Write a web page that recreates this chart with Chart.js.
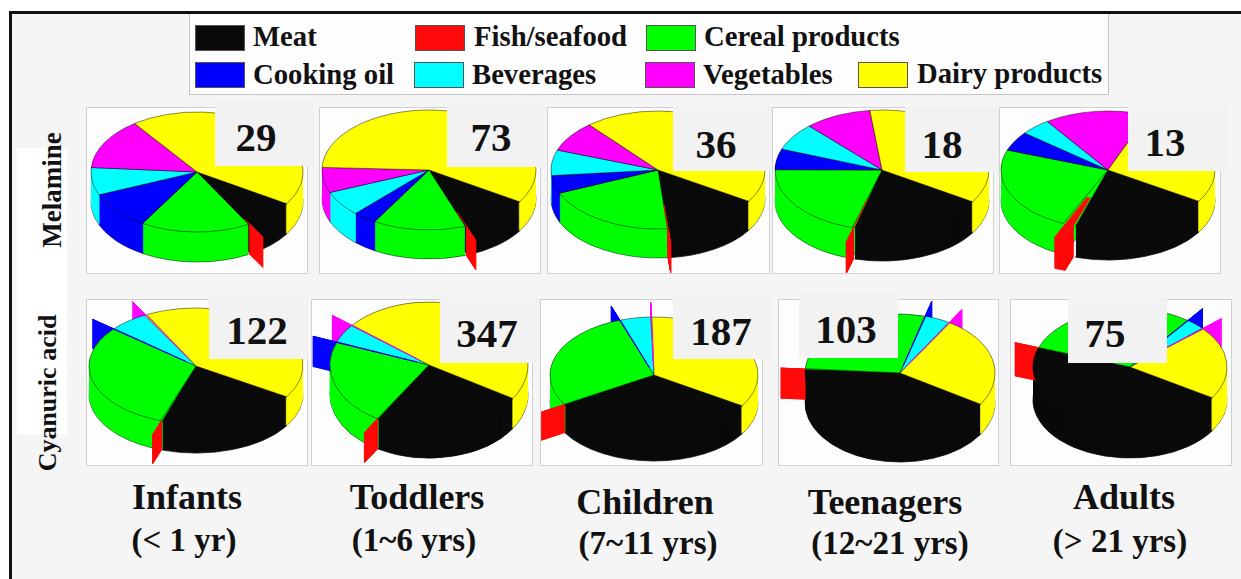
<!DOCTYPE html>
<html>
<head>
<meta charset="utf-8">
<title>Melamine and cyanuric acid intake by age group</title>
<script src="https://cdn.jsdelivr.net/npm/chart.js@4"></script>
<style>
  html, body { margin: 0; padding: 0; background: #fff; }
  #page { position: relative; width: 1241px; height: 579px; overflow: hidden; background: #fff; font-family: "Liberation Serif", serif; font-weight: bold; color: #111; }
  #frame { position: absolute; left: 9px; top: 11px; right: 0; bottom: 0; background: #f5f5f5; border-left: 3px solid #111; border-top: 3px solid #111; }
  #legend { position: absolute; left: 189px; top: 14px; width: 918px; height: 80px; background: #fdfdfd; border: 1px solid #c4c4c4; border-top: 0; }
  #rowband { position: absolute; left: 17px; top: 148px; width: 50px; height: 286px; background: #fff; }
  .swatch { position: absolute; width: 50px; height: 26px; box-sizing: border-box; border: 1px solid #555; }
  .text { position: absolute; white-space: nowrap; line-height: 1; transform: translate(-50%, -50%); }
  .legendtext { position: absolute; white-space: nowrap; line-height: 1; font-size: 28.7px; transform: translateY(-50%); }
  .rowlabel { position: absolute; white-space: nowrap; line-height: 1; transform: translate(-50%, -50%) rotate(-90deg); }
  .panel { position: absolute; background: #fdfdfd; box-shadow: 0 0 0 1px #d0d0d0; }
  .numbox { position: absolute; width: 99px; height: 65px; background: #f2f2f2; }
</style>
</head>
<body>
<div id="page">
  <div id="frame"></div>
  <div id="rowband"></div>
  <div id="legend"></div>
</div>
<script>
// slices, clockwise from the meat/dairy edge
const categories = ['Meat', 'Fish/seafood', 'Cereal products', 'Cooking oil', 'Beverages', 'Vegetables', 'Dairy products'];
const colors = ['#0a0a0a', '#ff0a0a', '#00ff00', '#0000ff', '#00ffff', '#ff00ff', '#ffff00'];

// percent share of each category
const melamineInfants   = [7.7, 0.3, 16.7, 10.2, 7.4, 13.8, 43.9];
const melamineToddlers  = [10.3, 0.3, 14.0, 3.6, 6.8, 6.8, 58.2];
const melamineChildren  = [14.5, 0.2, 20.0, 4.9, 7.0, 8.4, 45.0];
const melamineTeenagers = [20.2, 0.4, 20.6, 5.6, 7.4, 10.1, 35.7];
const melamineAdults    = [21.0, 2.0, 23.6, 5.3, 4.6, 15.6, 27.9];
const cyanuricInfants   = [21.2, 0.3, 30.5, 0.3, 5.8, 0.4, 41.5];
const cyanuricToddlers  = [24.7, 0.2, 22.0, 0.2, 4.7, 0.2, 48.0];
const cyanuricChildren  = [32.5, 0.2, 28.0, 0.2, 4.7, 0.2, 34.2];
const cyanuricTeenagers = [42.0, 0.3, 28.0, 0.2, 4.2, 0.2, 25.1];
const cyanuricAdults    = [46.4, 0.2, 29.6, 0.2, 3.1, 0.2, 20.3];

const melamineTotals = ['29', '73', '36', '18', '13'];
const cyanuricTotals = ['122', '347', '187', '103', '75'];
const groupNames = ['Infants', 'Toddlers', 'Children', 'Teenagers', 'Adults'];
const groupAges = ['(< 1 yr)', '(1~6 yrs)', '(7~11 yrs)', '(12~21 yrs)', '(> 21 yrs)'];

const melamineExploded = ['Fish/seafood'];
const cyanuricExploded = ['Fish/seafood', 'Cooking oil', 'Vegetables'];

// layout only: panel box, pie centre and radii, number box and its text,
// fishFrom = how far out the fish slice shows on the top face
const pies = [
  { values: melamineInfants,   total: melamineTotals[0], out: melamineExploded, box: [87, 108, 220, 165],   c: [197, 172], r: [106, 60], depth: 30, num: [215, 101, 256, 137], fishFrom: 0.9 },
  { values: melamineToddlers,  total: melamineTotals[1], out: melamineExploded, box: [320, 108, 220, 165],  c: [429, 170], r: [107, 60], depth: 29, num: [447, 102, 491, 137], fishFrom: 0.75 },
  { values: melamineChildren,  total: melamineTotals[2], out: melamineExploded, box: [548, 108, 221, 165],  c: [658, 170], r: [107, 59], depth: 29, num: [673, 106, 716, 144], fishFrom: 0.6 },
  { values: melamineTeenagers, total: melamineTotals[3], out: melamineExploded, box: [773, 108, 220, 165],  c: [882, 170], r: [107, 60], depth: 31, num: [905, 107, 942, 144], fishFrom: 0.5 },
  { values: melamineAdults,    total: melamineTotals[4], out: melamineExploded, box: [1000, 108, 220, 165], c: [1108, 170], r: [107, 59], depth: 31, num: [1128, 106, 1165, 142], fishFrom: 0.5 },
  { values: cyanuricInfants,   total: cyanuricTotals[0], out: cyanuricExploded, box: [87, 300, 220, 165],   c: [196, 366], r: [107, 58], depth: 29, num: [209, 294, 257, 330], fishFrom: 1 },
  { values: cyanuricToddlers,  total: cyanuricTotals[1], out: cyanuricExploded, box: [312, 300, 220, 165],  c: [429, 365], r: [99, 63],  depth: 30, num: [440, 298, 487, 333], fishFrom: 1 },
  { values: cyanuricChildren,  total: cyanuricTotals[2], out: cyanuricExploded, box: [541, 300, 221, 165],  c: [654, 375], r: [104, 58], depth: 28, num: [673, 294, 721, 331], fishFrom: 1 },
  { values: cyanuricTeenagers, total: cyanuricTotals[3], out: cyanuricExploded, box: [779, 300, 219, 165],  c: [900, 373], r: [95, 59],  depth: 30, num: [799, 293, 846, 329], fishFrom: 1 },
  { values: cyanuricAdults,    total: cyanuricTotals[4], out: cyanuricExploded, box: [1011, 300, 220, 165], c: [1130, 367], r: [97, 58], depth: 33, num: [1068, 298, 1105, 333], fishFrom: 1 }
];

const legendSpots = [
  [195, 25, 253, 36], [415, 25, 474, 36], [646, 25, 704, 36], [195, 62, 253, 74],
  [414, 62, 472, 74], [645, 62, 703, 74], [858, 62, 917, 73]
];
const groupSpots = [[187, 497, 184, 540], [417, 497, 414, 540], [645, 502, 648, 543], [885, 502, 890, 543], [1124, 497, 1120, 541]];

const page = document.getElementById('page');

function addDiv(cls, css, text, parent) {
  const el = document.createElement('div');
  el.className = cls;
  Object.assign(el.style, css);
  if (text) el.textContent = text;
  (parent || page).appendChild(el);
  return el;
}

categories.forEach(function (name, i) {
  const s = legendSpots[i];
  addDiv('swatch', { left: s[0] + 'px', top: s[1] + 'px', background: colors[i] });
  addDiv('legendtext', { left: s[2] + 'px', top: s[3] + 'px' }, name);
});

addDiv('rowlabel', { left: '52px', top: '190px', fontSize: '27px' }, 'Melamine');
addDiv('rowlabel', { left: '48px', top: '393px', fontSize: '26px' }, 'Cyanuric acid');

groupNames.forEach(function (name, i) {
  const s = groupSpots[i];
  addDiv('text', { left: s[0] + 'px', top: s[1] + 'px', fontSize: '36px' }, name);
  addDiv('text', { left: s[2] + 'px', top: s[3] + 'px', fontSize: '33px' }, groupAges[i]);
});

// paint an arc element with changed options, at a given drop below the top face
function paint(ctx, arc, geo, drop, style, hideInside) {
  const tilt = geo.r[1] / geo.r[0];
  ctx.save();
  ctx.translate(geo.cx, geo.cy + drop);
  ctx.scale(1, tilt);
  ctx.translate(-arc.x, -arc.y);
  if (hideInside) {
    ctx.beginPath();
    ctx.rect(arc.x - 500, arc.y - 500, 1000, 1000);
    ctx.arc(arc.x, arc.y, hideInside, 0, Math.PI * 2);
    ctx.clip('evenodd');
  }
  const view = Object.create(arc);
  view.options = Object.assign({}, arc.options, style);
  arc.draw.call(view, ctx);
  ctx.restore();
}

const pie3d = {
  id: 'pie3d',
  beforeDatasetsDraw(chart, args, opts) {
    const ctx = chart.ctx;
    const geo = opts.geo;
    const arcs = chart.getDatasetMeta(0).data;
    const isOut = arcs.map(function (a, i) { return geo.out.indexOf(categories[i]) >= 0; });
    const flat = { borderWidth: 0 };
    const edge = function (i) {
      // no visible seam on the black slice
      return { borderWidth: 1, borderColor: categories[i] === 'Meat' ? colors[i] : 'rgba(0,0,0,0.6)' };
    };

    // side walls of the pie
    for (let d = geo.depth; d >= 1; d--) {
      arcs.forEach(function (a, i) {
        if (!isOut[i]) paint(ctx, a, geo, d, d === geo.depth ? edge(i) : flat);
      });
    }
    // pulled out slices only show past the rim
    for (let d = geo.depth; d >= 0; d -= 0.5) {
      arcs.forEach(function (a, i) {
        if (isOut[i]) paint(ctx, a, geo, d, { borderWidth: 1, borderColor: colors[i] }, a.outerRadius);
      });
    }
    // top face
    arcs.forEach(function (a, i) {
      if (!isOut[i]) paint(ctx, a, geo, 0, edge(i));
    });
    arcs.forEach(function (a, i) {
      if (!isOut[i]) return;
      const from = categories[i] === 'Fish/seafood' ? geo.fishFrom * a.outerRadius : 0;
      paint(ctx, a, geo, 0, { borderWidth: 1, borderColor: colors[i] }, from);
    });
    return false;
  }
};

pies.forEach(function (p) {
  const panel = addDiv('panel', { left: p.box[0] + 'px', top: p.box[1] + 'px', width: p.box[2] + 'px', height: p.box[3] + 'px' });
  const canvas = document.createElement('canvas');
  canvas.width = p.box[2];
  canvas.height = p.box[3];
  canvas.style.display = 'block';
  panel.appendChild(canvas);

  new Chart(canvas.getContext('2d'), {
    type: 'pie',
    data: {
      labels: categories,
      datasets: [{
        data: p.values,
        backgroundColor: colors,
        borderWidth: 0,
        offset: categories.map(function (c) { return p.out.indexOf(c) >= 0 ? p.r[0] * 0.52 : 0; })
      }]
    },
    options: {
      responsive: false,
      animation: false,
      rotation: 122,
      radius: p.r[0],
      events: [],
      plugins: {
        legend: { display: false },
        tooltip: { enabled: false },
        pie3d: { geo: { cx: p.c[0] - p.box[0], cy: p.c[1] - p.box[1], r: p.r, depth: p.depth, out: p.out, fishFrom: p.fishFrom } }
      }
    },
    plugins: [pie3d]
  });

  addDiv('numbox', { left: p.num[0] + 'px', top: p.num[1] + 'px' });
  addDiv('text', { left: p.num[2] + 'px', top: p.num[3] + 'px', fontSize: '41px' }, p.total);
});
</script>
</body>
</html>
